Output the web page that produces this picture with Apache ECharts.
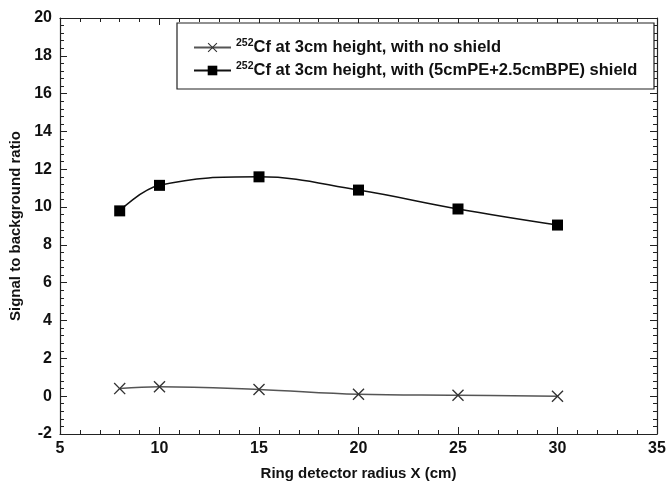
<!DOCTYPE html>
<html>
<head>
<meta charset="utf-8">
<script src="https://cdn.jsdelivr.net/npm/echarts@6/dist/echarts.min.js"></script>
<style>
  html, body { margin: 0; padding: 0; background: #fff; }
  #chart { width: 669px; height: 486px; }
</style>
</head>
<body>
<div id="chart"></div>
<script>
// radius values (cm)
var radius = [8, 10, 15, 20, 25, 30];
// signal to background ratio
var noShield = [0.4, 0.5, 0.35, 0.1, 0.05, 0.0];
var withShield = [9.8, 11.15, 11.6, 10.9, 9.9, 9.05];
var seriesNames = ['Cf at 3cm height, with no shield', 'Cf at 3cm height, with (5cmPE+2.5cmBPE) shield'];

var chart = echarts.init(document.getElementById('chart'));

var crossPath = 'path://M0,0.8L0.8,0L5,4.2L9.2,0L10,0.8L5.8,5L10,9.2L9.2,10L5,5.8L0.8,10L0,9.2L4.2,5Z';
var font = 'Liberation Sans, Arial, sans-serif';

function pairs(xs, ys) {
  return xs.map(function (x, i) { return [x, ys[i]]; });
}

var axisCommon = {
  axisLine: { show: true, onZero: false, lineStyle: { color: '#222', width: 1.2 } },
  axisTick: { show: true, inside: true, length: 7, lineStyle: { color: '#222', width: 1 } },
  minorTick: { show: true, splitNumber: 5, length: 4, lineStyle: { color: '#222', width: 1 } },
  splitLine: { show: false }
};

var option = {
  animation: false,
  backgroundColor: '#fff',
  grid: { left: 60, right: 12, top: 18, bottom: 50 },
  graphic: [{
    type: 'rect',
    shape: { x: 177, y: 23, width: 477, height: 66 },
    style: { fill: '#fff', stroke: '#222', lineWidth: 1.2 },
    z: 5
  }],
  legend: {
    orient: 'vertical',
    left: 188,
    top: 33,
    itemGap: 5,
    itemWidth: 37,
    itemHeight: 12,
    z: 10,
    data: seriesNames,
    formatter: function (name) { return '{sup|252}{t|' + name + '}'; },
    textStyle: {
      rich: {
        sup: { fontSize: 10.5, fontWeight: 'bold', fontFamily: font, color: '#111', verticalAlign: 'top', padding: [0, 0, 8, 0] },
        t: { fontSize: 16.5, fontWeight: 'bold', fontFamily: font, color: '#111' }
      }
    }
  },
  xAxis: [
    Object.assign({}, axisCommon, {
      type: 'value', min: 5, max: 35, interval: 5,
      name: 'Ring detector radius X (cm)',
      nameLocation: 'middle', nameGap: 32,
      nameTextStyle: { fontSize: 15, fontWeight: 'bold', fontFamily: font, color: '#111' },
      axisLabel: { fontSize: 16, fontWeight: 'bold', fontFamily: font, color: '#111', margin: 7 }
    }),
    Object.assign({}, axisCommon, {
      type: 'value', min: 5, max: 35, interval: 5, position: 'top',
      axisLabel: { show: false }
    })
  ],
  yAxis: [
    Object.assign({}, axisCommon, {
      type: 'value', min: -2, max: 20, interval: 2,
      name: 'Signal to background ratio',
      nameLocation: 'middle', nameGap: 36,
      nameTextStyle: { fontSize: 15, fontWeight: 'bold', fontFamily: font, color: '#111' },
      axisLabel: { fontSize: 16, fontWeight: 'bold', fontFamily: font, color: '#111', margin: 8 }
    }),
    Object.assign({}, axisCommon, {
      type: 'value', min: -2, max: 20, interval: 2, position: 'right',
      axisLabel: { show: false }
    })
  ],
  series: [
    {
      name: seriesNames[0],
      type: 'line',
      smooth: 0.4,
      data: pairs(radius, noShield),
      symbol: crossPath,
      symbolSize: 12,
      color: '#333',
      lineStyle: { color: '#555', width: 1.5 },
      itemStyle: { color: '#333' }
    },
    {
      name: seriesNames[1],
      type: 'line',
      smooth: 0.4,
      data: pairs(radius, withShield),
      symbol: 'rect',
      symbolSize: 11,
      color: '#000',
      lineStyle: { color: '#111', width: 1.5 },
      itemStyle: { color: '#000' }
    }
  ]
};

chart.setOption(option);
</script>
</body>
</html>
